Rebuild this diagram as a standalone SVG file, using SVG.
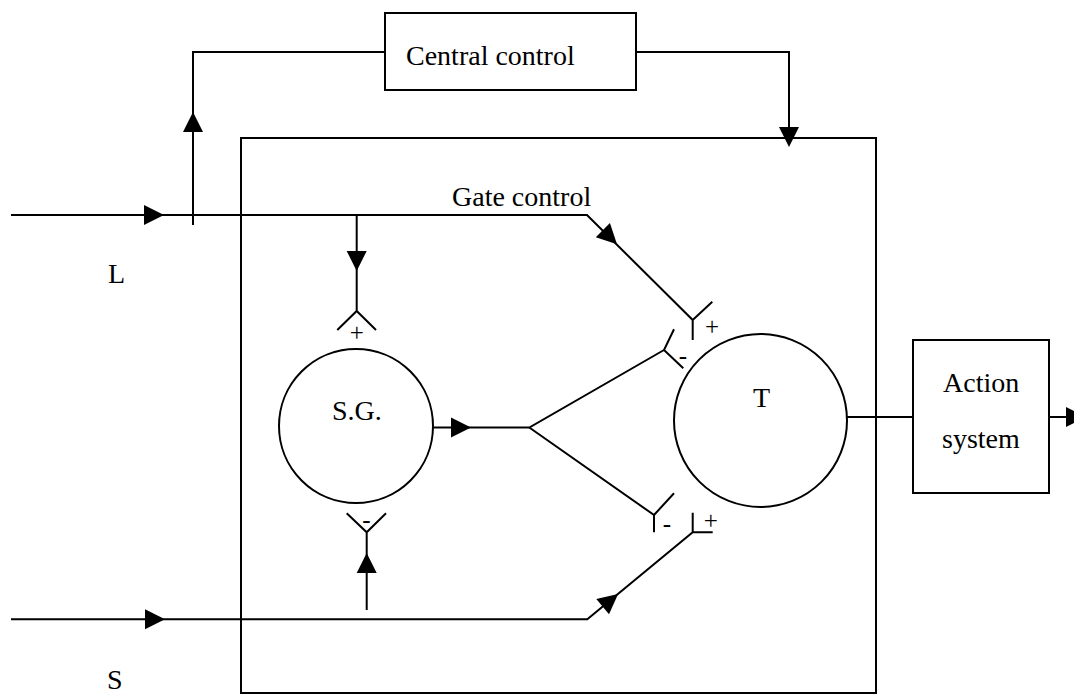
<svg xmlns="http://www.w3.org/2000/svg" width="1074" height="695" viewBox="0 0 1074 695">
<style>
.ln{fill:none;stroke:#000;stroke-width:2;stroke-linejoin:miter}
.bx{fill:#fff;stroke:#000;stroke-width:2}
.t{font-family:"Liberation Serif","Times New Roman",serif;font-size:28px;fill:#000}
.s{font-family:"Liberation Serif","Times New Roman",serif;font-size:25px;fill:#000;text-anchor:middle}
</style>
<defs>
<path id="ah" d="M0,0 L-20,-10 L-20,10 Z" fill="#000"/>
</defs>
<rect width="1074" height="695" fill="#fff"/>
<g id="main-box">
<rect x="241" y="138" width="635" height="555" class="ln"/>
<text x="452" y="206" class="t">Gate control</text>
</g>
<g id="central-control">
<rect x="385" y="13" width="251" height="77" class="bx"/>
<text x="406" y="65" class="t">Central control</text>
</g>
<g id="sg">
<circle cx="356" cy="426" r="77" class="ln"/>
<text x="332" y="420" class="t">S.G.</text>
</g>
<g id="t">
<circle cx="760.5" cy="420.5" r="86.5" class="ln"/>
<text x="753" y="407" class="t">T</text>
</g>
<g id="action-system">
<rect x="913" y="340" width="136" height="153" class="bx"/>
<text x="943" y="392" class="t">Action</text>
<text x="942" y="448" class="t">system</text>
</g>
<g id="labels">
<text x="108" y="283" class="t">L</text>
<text x="107" y="689" class="t">S</text>
</g>
<g id="connectors">
<path class="ln" d="M11,215 H587 L692.7,320 V340 M692.7,320 L712.3,301.7"/>
<path class="ln" d="M193,225 V52 H385"/>
<path class="ln" d="M636,52 H789 V140"/>
<path class="ln" d="M356.7,215 V311 M337.3,330 L356.7,311 L376,330"/>
<path class="ln" d="M433,427.5 H529.3 L664,350 M674,329.3 L664,350 L683.3,368.3"/>
<path class="ln" d="M529.3,427.5 L654,515 V532.3 M674,493.3 L654,515"/>
<path class="ln" d="M11,619.3 H587.3 L692.7,532.3 H712.7 M692.7,532.3 V512.7"/>
<path class="ln" d="M366.7,610 V532.3 M346.7,513.3 L366.7,532.3 L386,513.3"/>
<path class="ln" d="M847,417 H913 M1049,417 H1074"/>
<use href="#ah" transform="translate(164,215)"/>
<use href="#ah" transform="translate(193,112) rotate(-90)"/>
<use href="#ah" transform="translate(789,147) rotate(90)"/>
<use href="#ah" transform="translate(356.7,271) rotate(90)"/>
<use href="#ah" transform="translate(617,244.3) rotate(45)"/>
<use href="#ah" transform="translate(471,427.5)"/>
<use href="#ah" transform="translate(366.7,553) rotate(-90)"/>
<use href="#ah" transform="translate(165,619.3)"/>
<use href="#ah" transform="translate(618.1,593.9) rotate(-39.5)"/>
<use href="#ah" transform="translate(1086,417)"/>
<text x="712" y="335" class="s">+</text>
<text x="683" y="364" class="s">-</text>
<text x="356.7" y="341" class="s">+</text>
<text x="366.5" y="528" class="s">-</text>
<text x="667" y="532" class="s">-</text>
<text x="710.7" y="529" class="s">+</text>
</g>
</svg>
